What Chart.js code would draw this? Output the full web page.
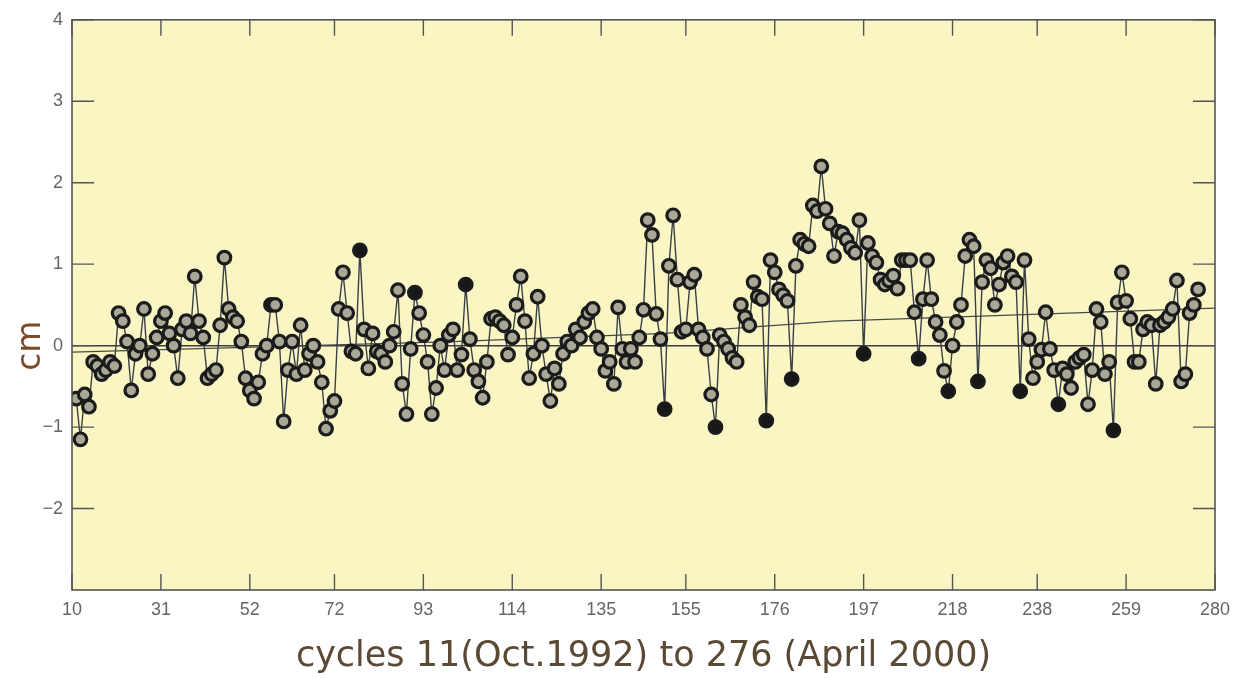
<!DOCTYPE html>
<html><head><meta charset="utf-8">
<script src="https://cdn.jsdelivr.net/npm/chart.js@4/dist/chart.umd.min.js"></script>
<style>html,body{margin:0;padding:0;background:#fff}canvas{display:block}</style>
</head><body>
<canvas id="c" width="1241" height="678"></canvas>
<script>
// ---- data ----
const firstCycle = 11;
const anomaly = [
  -0.65,-1.15,-0.6,-0.75,-0.2,-0.25,-0.35,-0.3,-0.2,-0.25,
  0.4,0.3,0.05,-0.55,-0.1,0.0,0.45,-0.35,-0.1,0.1,
  0.3,0.4,0.15,0.0,-0.4,0.2,0.3,0.15,0.85,0.3,
  0.1,-0.4,-0.35,-0.3,0.25,1.08,0.45,0.35,0.3,0.05,
  -0.4,-0.55,-0.65,-0.45,-0.1,0.0,0.5,0.5,0.05,-0.93,
  -0.3,0.05,-0.35,0.25,-0.3,-0.1,0.0,-0.2,-0.45,-1.02,
  -0.8,-0.68,0.45,0.9,0.4,-0.07,-0.1,1.17,0.2,-0.28,
  0.15,-0.07,-0.1,-0.2,0.0,0.17,0.68,-0.47,-0.84,-0.04,
  0.65,0.4,0.13,-0.2,-0.84,-0.52,0.0,-0.3,0.13,0.2,
  -0.3,-0.11,0.75,0.08,-0.3,-0.44,-0.64,-0.2,0.33,0.35,
  0.3,0.25,-0.11,0.1,0.5,0.85,0.3,-0.4,-0.1,0.6,
  0.0,-0.35,-0.68,-0.28,-0.47,-0.1,0.05,0.0,0.2,0.1,
  0.29,0.4,0.45,0.1,-0.04,-0.31,-0.2,-0.47,0.47,-0.04,
  -0.2,-0.04,-0.2,0.1,0.44,1.54,1.36,0.39,0.08,-0.78,
  0.98,1.6,0.81,0.17,0.2,0.78,0.87,0.2,0.1,-0.04,
  -0.6,-1.0,0.13,0.05,-0.04,-0.15,-0.2,0.5,0.35,0.25,
  0.78,0.6,0.57,-0.92,1.05,0.9,0.69,0.62,0.55,-0.41,
  0.98,1.3,1.25,1.22,1.72,1.65,2.2,1.68,1.5,1.1,
  1.4,1.38,1.3,1.2,1.14,1.54,-0.1,1.26,1.1,1.02,
  0.81,0.75,0.8,0.86,0.7,1.05,1.05,1.05,0.41,-0.16,
  0.57,1.05,0.57,0.29,0.13,-0.31,-0.56,0.0,0.29,0.5,
  1.1,1.3,1.22,-0.44,0.78,1.05,0.95,0.5,0.75,1.02,
  1.1,0.85,0.78,-0.56,1.05,0.08,-0.4,-0.2,-0.05,0.41,
  -0.04,-0.3,-0.72,-0.28,-0.35,-0.52,-0.2,-0.15,-0.11,-0.72,
  -0.3,0.45,0.29,-0.35,-0.2,-1.04,0.53,0.9,0.55,0.33,
  -0.2,-0.2,0.2,0.29,0.25,-0.47,0.25,0.29,0.35,0.45,
  0.8,-0.44,-0.35,0.4,0.5,0.69
];
const flaggedCycles = [57, 78, 91, 103, 150, 162, 174, 180, 197, 210, 217, 224, 234, 243, 256];
const trendCycles = [10, 100, 150, 190, 280];
const trendValues = [-0.08, 0.05, 0.15, 0.30, 0.46];
const zeroCycles = [10, 280];
const zeroValues = [0, 0];
const xTickValues = [10, 31, 52, 72, 93, 114, 135, 155, 176, 197, 218, 238, 259, 280];
const yTickValues = [-2, -1, 0, 1, 2, 3, 4];
const xTitle = 'cycles 11(Oct.1992) to 276 (April 2000)';
const yTitle = 'cm';

// ---- build ----
const cycles = anomaly.map((_, i) => firstCycle + i);
const seriesPts = cycles.map((c, i) => ({x: c, y: anomaly[i]}));
const trendPts = trendCycles.map((c, i) => ({x: c, y: trendValues[i]}));
const zeroPts = zeroCycles.map((c, i) => ({x: c, y: zeroValues[i]}));

const PLOT_BG = '#f9f6c4';
const FRAME = '#555555';

const framePlugin = {
  id: 'frame',
  beforeDraw(chart) {
    const {ctx, chartArea: a} = chart;
    ctx.save();
    ctx.fillStyle = '#ffffff';
    ctx.fillRect(0, 0, chart.width, chart.height);
    ctx.fillStyle = PLOT_BG;
    ctx.fillRect(a.left, a.top, a.right - a.left, a.bottom - a.top);
    ctx.restore();
  },
  afterDatasetsDraw(chart) {
    const {ctx, chartArea: a, scales: {x, y}} = chart;
    ctx.save();
    ctx.strokeStyle = FRAME;
    ctx.lineWidth = 1.6;
    ctx.strokeRect(a.left, a.top, a.right - a.left, a.bottom - a.top);
    ctx.lineWidth = 1.4;
    ctx.beginPath();
    xTickValues.forEach(v => {
      const px = x.getPixelForValue(v);
      ctx.moveTo(px, a.bottom); ctx.lineTo(px, a.bottom - 16);
      ctx.moveTo(px, a.top); ctx.lineTo(px, a.top + 16);
    });
    yTickValues.forEach(v => {
      const py = y.getPixelForValue(v);
      ctx.moveTo(a.left, py); ctx.lineTo(a.left + 22, py);
      ctx.moveTo(a.right, py); ctx.lineTo(a.right - 22, py);
    });
    ctx.stroke();
    ctx.restore();
  },
  afterDraw(chart) {
    const {ctx, scales: {y}} = chart;
    ctx.save();
    ctx.translate(31, y.getPixelForValue(0));
    ctx.rotate(-Math.PI / 2);
    ctx.fillStyle = '#7d4a2c';
    ctx.font = '33px "DejaVu Sans"';
    ctx.textAlign = 'center';
    ctx.textBaseline = 'middle';
    ctx.fillText(yTitle, 0, 0);
    ctx.restore();
  }
};

new Chart(document.getElementById('c'), {
  type: 'line',
  data: {
    datasets: [
      {
        label: 'zero',
        data: zeroPts,
        borderColor: '#3d3d3d',
        borderWidth: 1.5,
        pointRadius: 0,
        order: 3
      },
      {
        label: 'trend',
        data: trendPts,
        borderColor: '#4a4a4a',
        borderWidth: 1.3,
        pointRadius: 0,
        order: 2
      },
      {
        label: 'sea level',
        data: seriesPts,
        borderColor: '#3a3f46',
        borderWidth: 1.4,
        pointRadius: 6.3,
        pointBorderWidth: 3.2,
        pointBorderColor: '#1b1b1b',
        pointBackgroundColor: ctx => (ctx.raw && flaggedCycles.includes(ctx.raw.x)) ? '#171717' : '#a9a796',
        order: 1
      }
    ]
  },
  options: {
    responsive: false,
    animation: false,
    devicePixelRatio: 1,
    layout: {padding: {top: 12, right: 26, left: 0, bottom: 0}},
    plugins: {legend: {display: false}, tooltip: {enabled: false}},
    scales: {
      x: {
        type: 'linear',
        min: 10, max: 280,
        afterBuildTicks: s => { s.ticks = xTickValues.map(v => ({value: v})); },
        afterFit: s => { s.height = 88; },
        grid: {display: false, drawTicks: false},
        border: {display: false},
        ticks: {
          autoSkip: false, maxRotation: 0, padding: 9,
          color: '#666666',
          font: {family: '"Liberation Sans", Arial, sans-serif', size: 18},
          callback: v => String(v)
        },
        title: {
          display: true, text: xTitle,
          color: '#5a4934',
          font: {family: '"DejaVu Sans", sans-serif', size: 35},
          padding: {top: 0, bottom: 0}
        }
      },
      y: {
        min: -3, max: 4,
        afterBuildTicks: s => { s.ticks = yTickValues.map(v => ({value: v})); },
        afterFit: s => { s.width = 72; },
        grid: {display: false, drawTicks: false},
        border: {display: false},
        ticks: {
          padding: 9,
          color: '#666666',
          font: {family: '"Liberation Sans", Arial, sans-serif', size: 18},
          callback: v => v < 0 ? '\u2212' + Math.abs(v) : String(v)
        }
      }
    }
  },
  plugins: [framePlugin]
});
</script>
</body></html>
